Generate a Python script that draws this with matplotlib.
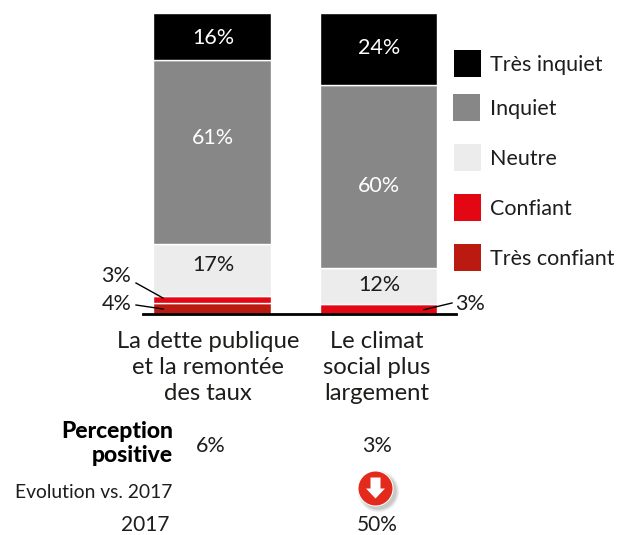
import matplotlib
matplotlib.use("Agg")
import matplotlib.pyplot as plt
from matplotlib.patches import Circle, Polygon, Rectangle

W, H = 618, 535
plt.rcParams['font.family'] = ['Lato', 'DejaVu Sans']

categories = ["La dette publique\net la remontée\ndes taux", "Le climat\nsocial plus\nlargement"]
series_names = ["Très confiant", "Confiant", "Neutre", "Inquiet", "Très inquiet"]
series_colors = ["#BA1A10", "#E30613", "#ECECEC", "#878787", "#000000"]
tres_confiant = [3.4, 0.0]
confiant = [2.4, 3.3]
neutre = [17.2, 12.0]
inquiet = [61.3, 60.7]
tres_inquiet = [15.7, 24.0]
labels_neutre = ["17%", "12%"]
labels_inquiet = ["61%", "60%"]
labels_tres_inquiet = ["16%", "24%"]
perception = ["6%", "3%"]
perception_2017 = ["", "50%"]

fig = plt.figure(figsize=(W / 100, H / 100), dpi=100, facecolor="white")

ov = fig.add_axes([0, 0, 1, 1], zorder=3)
ov.set_xlim(0, W); ov.set_ylim(H, 0); ov.axis("off"); ov.patch.set_alpha(0)

left, right, base, top = 143, 456, 313.5, 13
ax = fig.add_axes([left / W, 1 - base / H, (right - left) / W, (base - top) / H], zorder=2)
ax.patch.set_alpha(0)
ax.set_xlim((left - 212) / 166.5, (right - 212) / 166.5)
ax.set_ylim(0, 100)
for s in ["top", "left", "right"]:
    ax.spines[s].set_visible(False)
ax.spines["bottom"].set_linewidth(2)
ax.spines["bottom"].set_color("black")
ax.set_xticks([]); ax.set_yticks([])
bottoms = [0.0, 0.0]
for name, col, vals in zip(series_names, series_colors,
                           [tres_confiant, confiant, neutre, inquiet, tres_inquiet]):
    ax.bar([0, 1], vals, bottom=bottoms, width=0.703, color=col, edgecolor="white", linewidth=1, zorder=2)
    bottoms = [b + v for b, v in zip(bottoms, vals)]

FS = 15.5
DARK = "#1d1d1b"
def t(x, y, s, ha="center", color=DARK, fs=FS, **kw):
    ov.text(x, y, s, ha=ha, va="center", color=color, fontsize=fs, **kw)

for x, a, ya, b, yb, c, yc in [(213, labels_tres_inquiet[0], 38, labels_inquiet[0], 138, labels_neutre[0], 265),
                               (379, labels_tres_inquiet[1], 48, labels_inquiet[1], 186, labels_neutre[1], 285)]:
    t(x, ya, a, color="white")
    t(x, yb, b, color="white")
    t(x, yc, c)

t(116.5, 276, "3%"); t(116.5, 304, "4%"); t(470, 304, "3%")
ov.plot([136, 163], [283, 298], color="black", lw=1)
ov.plot([136, 163], [305, 309], color="black", lw=1)
ov.plot([424, 452], [309.7, 303], color="black", lw=1)

for y, x0, c, n in [(50, 454, "#000000", "Très inquiet"), (94, 453, "#878787", "Inquiet"),
                    (144, 454, "#ECECEC", "Neutre"), (194, 454, "#E30613", "Confiant"),
                    (244, 454, "#BA1A10", "Très confiant")]:
    ov.add_patch(Rectangle((x0, y), 27, 27, facecolor=c, edgecolor="none"))
    t(490, y + 15, n, ha="left")

for x, s in zip([208, 377], categories):
    for i, line in enumerate(s.split("\n")):
        t(x, 342 + 26 * i, line, fs=17.2)

t(173, 431, "Perception", ha="right", fontweight=900, fs=16.5, color="black")
t(173, 456, "positive", ha="right", fontweight=900, fs=16.5, color="black")
t(211, 446, perception[0])
t(377, 446, perception[1])
t(172, 492, "Evolution vs. 2017", ha="right", fs=13.9)
t(170, 525, "2017", ha="right", fs=15)
t(377, 525, perception_2017[1], fs=15)

cx, cy = 375.5, 488.5
for r, a in [(21, .04), (20, .05), (19, .06), (18, .08)]:
    ov.add_patch(Circle((cx + 3, cy + 3), r, facecolor="black", alpha=a, edgecolor="none"))
ov.add_patch(Circle((cx, cy), 18, facecolor="white", edgecolor="none"))
ov.add_patch(Circle((cx, cy), 17, facecolor="#E42A1C", edgecolor="none"))
ov.add_patch(Polygon([(cx - 5, cy - 11), (cx + 5, cy - 11), (cx + 5, cy), (cx + 9.5, cy),
                      (cx, cy + 10), (cx - 9.5, cy), (cx - 5, cy)], facecolor="white", edgecolor="none"))

fig.savefig("out.png", dpi=100)
